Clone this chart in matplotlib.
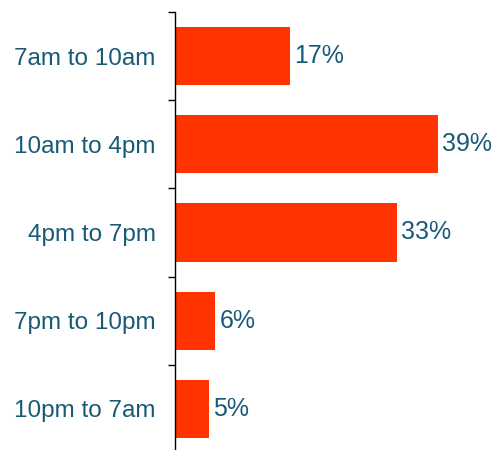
import numpy as np
import matplotlib.pyplot as plt

categories = ['7am to 10am', '10am to 4pm', '4pm to 7pm', '7pm to 10pm', '10pm to 7am']
shares = [17, 39, 33, 6, 5]

text_col = '#185A76'
plt.rcParams['font.family'] = ['Liberation Sans', 'DejaVu Sans']

fig = plt.figure(figsize=(4.95, 4.5), dpi=100)
# axis runs from y=12px down past the bottom edge (clipped), as in the original
ax = fig.add_axes([175 / 495, 1 - 453 / 450, 1 - 175 / 495, (453 - 12) / 450])

y = np.arange(len(categories))
bars = ax.barh(y, shares, height=0.66, color='#FF3300')
ax.bar_label(bars, labels=[f'{v}%' for v in shares], padding=3,
             fontsize=18, color=text_col)

ax.set_ylim(len(categories) - 0.5, -0.5)
ax.set_xlim(0, 47.5)

ax.set_yticks(y)
ax.set_yticklabels(categories, fontsize=17.5, color=text_col)
ax.tick_params(axis='y', which='major', length=0, pad=14)
ax.set_yticks(np.arange(len(categories) + 1) - 0.5, minor=True)
ax.tick_params(axis='y', which='minor', length=5, width=1, color='black')

ax.set_xticks([])
for s in ['top', 'right', 'bottom']:
    ax.spines[s].set_visible(False)
ax.spines['left'].set_linewidth(1)

fig.savefig('out.png', dpi=100)
